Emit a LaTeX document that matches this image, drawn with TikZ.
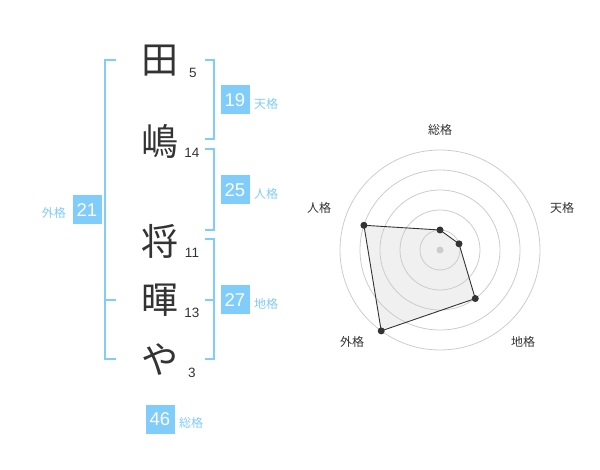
\documentclass[tikz,border=0pt]{standalone}
\usepackage{fontspec}
\usetikzlibrary{calc}
\setmainfont{Liberation Sans}
\newfontfamily\jp{Noto Sans CJK JP}
\definecolor{lb}{RGB}{128,204,250}
\definecolor{dk}{RGB}{51,51,51}
\definecolor{gr}{RGB}{204,204,204}
\definecolor{pf}{RGB}{240,240,240}
\begin{document}
\begin{tikzpicture}[x=1pt,y=-1pt,
  kanji/.style={font=\jp\fontsize{37}{37}\selectfont,text=dk,inner sep=0pt},
  strokes/.style={font=\fontsize{13.5}{13.5}\selectfont,text=dk,inner sep=0pt},
  numbox/.style={fill=lb,text=white,minimum width=29pt,minimum height=29pt,inner sep=0pt,font=\fontsize{18.5}{18.5}\selectfont},
  kaku/.style={font=\jp\fontsize{12}{12}\selectfont,text=lb,inner sep=0pt},
  brk/.style={draw=lb,line width=2pt},
  ring/.style={draw=gr,line width=0.8pt},
  rlab/.style={font=\jp\fontsize{12}{12}\selectfont,text=dk,inner sep=0pt},
  dot/.style={circle,fill=dk,inner sep=0pt,minimum size=7pt}]
\useasboundingbox (0,0) rectangle (600,470);
% characters
\node[kanji] (c1) at (160,61) {田};
\node[kanji] (c2) at (160,141) {嶋};
\node[kanji] (c3) at (160,241) {将};
\node[kanji] (c4) at (160,300) {暉};
\node[kanji] (c5) at (160,360) {や};
\node[strokes] (s1) at (193,73) {5};
\node[strokes] (s2) at (192,153) {14};
\node[strokes] (s3) at (192,253) {11};
\node[strokes] (s4) at (192,313) {13};
\node[strokes] (s5) at (192,373) {3};
% brackets
\draw[brk] (116,60) -- (105,60) -- (105,359) -- (116,359);
\draw[brk] (105,300) -- (116,300);
\draw[brk] (205,60) -- (214,60) -- (214,139) -- (205,139);
\draw[brk] (205,149) -- (214,149) -- (214,230) -- (205,230);
\draw[brk] (205,239) -- (214,239) -- (214,359) -- (205,359);
\draw[brk] (205,300) -- (214,300);
% boxes
\node[numbox] (ten) at (235,100) {19};
\node[kaku,anchor=west] (tenl) at (254,104) {天格};
\node[numbox] (jin) at (235,190) {25};
\node[kaku,anchor=west] (jinl) at (254,194) {人格};
\node[numbox] (chi) at (235,300) {27};
\node[kaku,anchor=west] (chil) at (254,304) {地格};
\node[numbox] (gai) at (87,210) {21};
\node[kaku,anchor=east] (gail) at (66,213) {外格};
\node[numbox] (sou) at (160,419) {46};
\node[kaku,anchor=west] (soul) at (179,423) {総格};
% radar
\coordinate (o) at (440,250);
\coordinate (p1) at ($(o)+(0,-20)$);
\coordinate (p2) at ($(o)+({20*cos(18)},{-20*sin(18)})$);
\coordinate (p3) at ($(o)+({60*cos(54)},{60*sin(54)})$);
\coordinate (p4) at ($(o)+({-100*cos(54)},{100*sin(54)})$);
\coordinate (p5) at ($(o)+({-80*cos(18)},{-80*sin(18)})$);
\fill[pf] (p1) -- (p2) -- (p3) -- (p4) -- (p5) -- cycle;
\foreach \r in {20,40,60,80,100} \draw[ring] (o) circle (\r);
\fill[gr] (o) circle (3.5);
\draw[draw=dk,line width=0.9pt] (p1) -- (p2) -- (p3) -- (p4) -- (p5) -- cycle;
\foreach \p in {p1,p2,p3,p4,p5} \node[dot] at (\p) {};
\node[rlab] (r1) at (440,130) {総格};
\node[rlab] (r2) at (562,208) {天格};
\node[rlab] (r3) at (523,342) {地格};
\node[rlab] (r4) at (352,342) {外格};
\node[rlab] (r5) at (319,208) {人格};
\end{tikzpicture}
\end{document}
